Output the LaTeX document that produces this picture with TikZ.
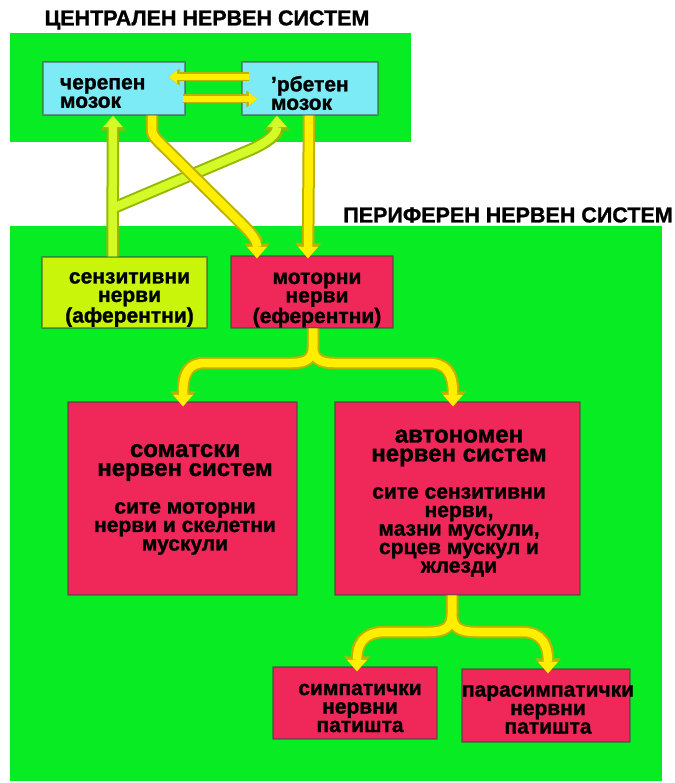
\documentclass[tikz,border=0pt]{standalone}
\usepackage{fontspec}
\setmainfont{Liberation Sans}[BoldFeatures={FakeBold=1.2}]
\usetikzlibrary{arrows.meta,calc}

\definecolor{nsgreen}{RGB}{8,236,36}
\definecolor{cnscyan}{RGB}{125,235,245}
\definecolor{sensfill}{RGB}{200,245,10}
\definecolor{motorfill}{RGB}{240,40,90}
\definecolor{yfill}{RGB}{255,238,0}
\definecolor{ydark}{RGB}{190,178,0}
\definecolor{lfill}{RGB}{212,250,40}
\definecolor{ldark}{RGB}{150,185,0}

\newcommand\nsbody{\fontsize{21}{18.5}\selectfont}
\newcommand\nshead{\fontsize{24}{19}\selectfont}
\newcommand\nstitle{\fontsize{21.5}{24}\selectfont}

\tikzset{
  title/.style={font=\bfseries\nstitle, inner sep=0pt},
  box/.style={draw=black!75, draw opacity=0.5, line width=1.4pt, inner sep=0pt},
  txt/.style={font=\bfseries\nsbody, align=center, inner sep=0pt},
  headtxt/.style={font=\bfseries\nshead, align=center, inner sep=0pt},
  % yellow motor bands: dark outline pass, then bright fill pass
  yout/.style={draw=ydark, line width=12.5pt,
               -{Triangle[width=26pt,length=15pt,line width=0pt]}},
  yin/.style={draw=yfill, line width=8.5pt,
              -{Triangle[width=20pt,length=11.5pt,line width=0pt]}},
  % lime sensory bands
  lout/.style={draw=ldark, line width=12.5pt,
               -{Triangle[width=26pt,length=15pt,line width=0pt]}},
  lin/.style={draw=lfill, line width=8.5pt,
              -{Triangle[width=20pt,length=11.5pt,line width=0pt]}},
  % thin links between the two brain parts
  hout/.style={draw=ydark, line width=9pt,
               -{Triangle[width=17pt,length=11pt,line width=0pt]}},
  hin/.style={draw=yfill, line width=6pt,
              -{Triangle[width=13pt,length=8.5pt,line width=0pt]}},
}

\begin{document}
\begin{tikzpicture}[x=1pt,y=-1pt,line join=round]
\useasboundingbox (0,0) rectangle (674,783);
\fill[white] (0,0) rectangle (674,783);

% the two system panels
\fill[nsgreen] (10,33) rectangle (411,142);
\fill[nsgreen] (10,226) rectangle (662,781);

\node[title] (cnstitle) at (207,20) {ЦЕНТРАЛЕН НЕРВЕН СИСТЕМ};
\node[title] (pnstitle) at (508,215) {ПЕРИФЕРЕН НЕРВЕН СИСТЕМ};

% central nervous system
\node[box, fill=cnscyan, minimum width=142pt, minimum height=53pt] (cereb) at (114,88.5) {};
\node[box, fill=cnscyan, minimum width=136pt, minimum height=53pt] (spine) at (310,88.5) {};
\node[txt, text width=108pt, align=left] (cereb-t) at ($(cereb.center)+(0,4.5)$) {черепен\\мозок};
\node[txt, text width=78pt, align=left] (spine-t) at ($(spine.center)+(0,4.5)$) {’рбетен\\мозок};

% peripheral nervous system
\node[box, fill=sensfill, minimum width=165pt, minimum height=71pt] (sens) at (124.5,292.5) {};
\node[box, fill=motorfill, minimum width=162pt, minimum height=72pt] (motor) at (312,292) {};
\node[box, fill=motorfill, minimum width=229pt, minimum height=193pt] (soma) at (182.5,498.5) {};
\node[box, fill=motorfill, minimum width=245pt, minimum height=193pt] (auto) at (457.5,498.5) {};
\node[box, fill=motorfill, minimum width=164pt, minimum height=72pt] (symp) at (355,703) {};
\node[box, fill=motorfill, minimum width=168pt, minimum height=73pt] (para) at (546,705.5) {};

\node[txt] (sens-t) at ($(sens.center)+(5,7)$) {сензитивни\\нерви\\(аферентни)};
\node[txt] (motor-t) at ($(motor.center)+(5,8)$) {моторни\\нерви\\(еферентни)};
\node[headtxt] (soma-h) at (185,462.5) {соматски\\нервен систем};
\node[txt] (soma-b) at (185,528.5) {сите моторни\\нерви и скелетни\\мускули};
\node[headtxt] (auto-h) at (459,448) {автономен\\нервен систем};
\node[txt] (auto-b) at (459,532) {сите сензитивни\\нерви,\\мазни мускули,\\срцев мускул и\\жлезди};
\node[txt] (symp-t) at ($(symp.center)+(5,5)$) {симпатички\\нервни\\патишта};
\node[txt] (para-t) at ($(para.center)+(2,4)$) {парасимпатички\\нервни\\патишта};

% links between the brain and the spinal cord
\draw[hout] ($(spine.west)+(8,-11.5)$) -- ($(cereb.east)+(-17,-11.5)$);
\draw[hin]  ($(spine.west)+(8,-11.5)$) -- ($(cereb.east)+(-17,-11.5)$);
\draw[hout] ($(cereb.east)+(-3,10.5)$) -- ($(spine.west)+(16,10.5)$);
\draw[hin]  ($(cereb.east)+(-3,10.5)$) -- ($(spine.west)+(16,10.5)$);

% sensory pathways up to the brain and the spinal cord
\coordinate (sfork) at ($(sens.north)+(-12,-48)$);
\draw[lout] ($(sens.north)+(-12,0)$) -- ($(cereb.south)+(-1,0)$);
\draw[lout] (sfork) -- (250,150) .. controls (268,142) and (277,134) .. ($(spine.south)+(-33,0)$);
\draw[lin] ($(sens.north)+(-12,0)$) -- ($(cereb.south)+(-1,0)$);
\draw[lin] (sfork) -- (250,150) .. controls (268,142) and (277,134) .. ($(spine.south)+(-33,0)$);

% motor pathways down from the brain and the spinal cord
\draw[yout] ($(cereb.south)+(38,0)$) -- (152,126) .. controls (152,134) .. (158,141)
  -- (240,222) .. controls (251,233) and (257,240) .. ($(motor.north)+(-55,3)$);
\draw[yout] ($(spine.south)+(-1,0)$) -- ($(motor.north)+(-4,3)$);
\draw[yin] ($(cereb.south)+(38,0)$) -- (152,126) .. controls (152,134) .. (158,141)
  -- (240,222) .. controls (251,233) and (257,240) .. ($(motor.north)+(-55,3)$);
\draw[yin] ($(spine.south)+(-1,0)$) -- ($(motor.north)+(-4,3)$);

% motor nerves split into somatic and autonomic systems
\coordinate (mfork) at ($(motor.south)+(1,18)$);
\draw[yout] ($(motor.south)+(1,0)$) -- (mfork) .. controls (313,359) and (306,363) .. (292,363)
  -- (205,363) .. controls (189,363) and (183,372) .. ($(soma.north)+(0.5,5)$);
\draw[yout] ($(motor.south)+(1,0)$) -- (mfork) .. controls (313,359) and (320,363) .. (334,363)
  -- (428,363) .. controls (446,363) and (453,372) .. ($(auto.north)+(-4.5,5)$);
\draw[yin] ($(motor.south)+(1,0)$) -- (mfork) .. controls (313,359) and (306,363) .. (292,363)
  -- (205,363) .. controls (189,363) and (183,372) .. ($(soma.north)+(0.5,5)$);
\draw[yin] ($(motor.south)+(1,0)$) -- (mfork) .. controls (313,359) and (320,363) .. (334,363)
  -- (428,363) .. controls (446,363) and (453,372) .. ($(auto.north)+(-4.5,5)$);

% autonomic system splits into sympathetic and parasympathetic pathways
\coordinate (afork) at ($(auto.south)+(-5.5,18)$);
\draw[yout] ($(auto.south)+(-5.5,0)$) -- (afork) .. controls (452,628) and (444,632) .. (428,632)
  -- (385,632) .. controls (363,632) and (357,645) .. ($(symp.north)+(2,5)$);
\draw[yout] ($(auto.south)+(-5.5,0)$) -- (afork) .. controls (452,628) and (460,632) .. (476,632)
  -- (522,632) .. controls (542,632) and (548,645) .. ($(para.north)+(2,5)$);
\draw[yin] ($(auto.south)+(-5.5,0)$) -- (afork) .. controls (452,628) and (444,632) .. (428,632)
  -- (385,632) .. controls (363,632) and (357,645) .. ($(symp.north)+(2,5)$);
\draw[yin] ($(auto.south)+(-5.5,0)$) -- (afork) .. controls (452,628) and (460,632) .. (476,632)
  -- (522,632) .. controls (542,632) and (548,645) .. ($(para.north)+(2,5)$);
\end{tikzpicture}
\end{document}
